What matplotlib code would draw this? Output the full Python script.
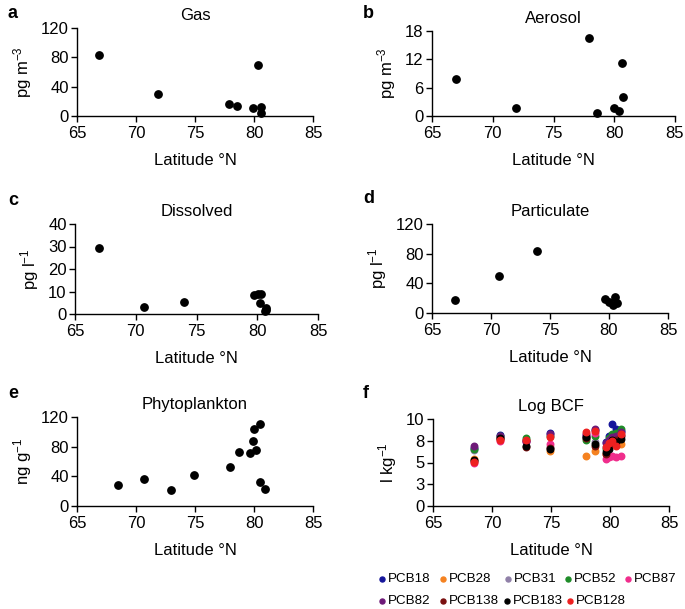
import numpy as np
import matplotlib
matplotlib.use("Agg")
import matplotlib.pyplot as plt
from matplotlib.lines import Line2D

plt.rcParams['font.family'] = ['Liberation Sans', 'DejaVu Sans']
plt.rcParams['font.size'] = 12
plt.rcParams['mathtext.fontset'] = 'custom'
plt.rcParams['mathtext.rm'] = 'Liberation Sans'
plt.rcParams['mathtext.it'] = 'Liberation Sans'

# ---- data ----
gas_lat = [66.9, 71.9, 77.9, 78.6, 80.3, 79.9, 80.6, 80.6]
gas_val = [83, 30.5, 16, 14, 69.5, 10.5, 12, 4.5]

aer_lat = [66.95, 71.9, 77.9, 78.6, 80.0, 80.4, 80.6, 80.7]
aer_val = [7.8, 1.7, 16.6, 0.7, 1.75, 1.05, 11.2, 4.0]

dis_lat = [67.0, 70.7, 74.0, 79.7, 80.1, 80.3, 80.2, 80.7, 80.6, 80.7]
dis_val = [29.3, 3.1, 5.4, 8.3, 8.7, 9.0, 4.8, 2.7, 1.2, 2.0]

par_lat = [66.97, 70.7, 73.9, 79.7, 80.0, 80.3, 80.5, 80.7]
par_val = [18, 50, 83.5, 19.5, 15, 10.4, 21.7, 13.5]

phy_lat = [68.5, 70.7, 73.0, 74.9, 78.0, 78.7, 79.7, 79.9, 80.0, 80.2, 80.5, 80.5, 80.9]
phy_val = [28, 37, 22, 41.5, 52, 72.6, 72, 87, 104, 76, 110.5, 33, 22.6]

bcf_lat = [68.5, 70.7, 72.9, 74.9, 78.0, 78.7, 79.7, 79.9, 80.2, 80.5, 80.9]
pcb_names = ['PCB18', 'PCB28', 'PCB31', 'PCB52', 'PCB87',
             'PCB82', 'PCB138', 'PCB183', 'PCB128']
pcb18  = [6.7, 8.2, 7.5, 8.4, 8.0, 8.7, 7.3, 8.1, 9.4, 8.8, 8.6]
pcb28  = [5.4, 7.8, 7.6, 6.3, 5.8, 6.3, 6.0, 7.4, 7.9, 8.0, 7.1]
pcb31  = [6.4, 7.9, 7.6, 6.8, 7.8, 7.3, 6.8, 7.0, 7.5, 7.8, 8.2]
pcb52  = [6.6, 8.0, 7.8, 8.0, 7.6, 8.0, 6.6, 7.8, 8.3, 8.4, 8.8]
pcb87  = [5.0, 7.5, 7.4, 7.1, 8.2, 8.4, 5.4, 5.6, 5.7, 5.6, 5.8]
pcb82  = [6.9, 8.0, 7.5, 8.3, 8.3, 8.8, 7.2, 7.6, 7.9, 8.1, 8.5]
pcb138 = [5.2, 7.7, 6.8, 6.7, 7.8, 6.9, 6.0, 7.0, 7.4, 7.6, 8.0]
pcb183 = [5.3, 7.8, 6.9, 6.5, 7.9, 7.1, 6.2, 6.5, 7.6, 7.3, 7.7]
pcb128 = [5.1, 7.6, 7.6, 7.9, 8.5, 8.6, 6.8, 7.2, 7.5, 6.9, 8.3]
pcb_vals = [pcb18, pcb28, pcb31, pcb52, pcb87, pcb82, pcb138, pcb183, pcb128]
pcb_colors = ['#16169a', '#f58220', '#9080a8', '#1e8c28', '#f02d8c',
              '#6e1a78', '#7a1010', '#000000', '#ee2020']

bcf_ticks = [0, 2.5, 5, 7.5, 10]
bcf_ticklabels = ['0', '3', '5', '8', '10']

W, H = 685, 609
fig = plt.figure(figsize=(W / 100, H / 100), dpi=100)


def make_ax(l, r, t, b):
    return fig.add_axes([l / W, 1 - b / H, (r - l) / W, (b - t) / H])


def style(ax, title, ylabel, ymax, yticks, letter, lx, ly):
    ax.set_xlim(65, 85)
    ax.set_ylim(0, ymax)
    ax.set_xticks([65, 70, 75, 80, 85])
    ax.set_yticks(yticks)
    for s in ['top', 'right']:
        ax.spines[s].set_visible(False)
    for s in ['left', 'bottom']:
        ax.spines[s].set_linewidth(1.0)
        ax.spines[s].set_clip_on(False)
    ax.tick_params(direction='out', length=4, width=1.0, labelsize=12, pad=2)
    ax.tick_params(axis='x', pad=3)
    ax.set_xlabel('Latitude °N', fontsize=12, labelpad=9)
    ax.set_ylabel(ylabel, fontsize=12, labelpad=5)
    ax.set_title(title, fontsize=12, pad=6)
    fig.text(lx / W, 1 - ly / H, letter, fontsize=13, fontweight='bold',
             ha='left', va='center')


ms = 28
ax_a = make_ax(77, 313, 28, 116)
ax_a.scatter(gas_lat, gas_val, s=ms, color='black', clip_on=False, zorder=3)
style(ax_a, 'Gas', 'pg m$^{-3}$', 120, [0, 40, 80, 120], 'a', 8, 13)

ax_b = make_ax(432, 675, 31, 116)
ax_b.scatter(aer_lat, aer_val, s=ms, color='black', clip_on=False, zorder=3)
style(ax_b, 'Aerosol', 'pg m$^{-3}$', 18, [0, 6, 12, 18], 'b', 363, 13)

ax_c = make_ax(75, 318, 224, 314)
ax_c.scatter(dis_lat, dis_val, s=ms, color='black', clip_on=False, zorder=3)
style(ax_c, 'Dissolved', 'pg l$^{-1}$', 40, [0, 10, 20, 30, 40], 'c', 8, 201)

ax_d = make_ax(432, 668, 224, 313)
ax_d.scatter(par_lat, par_val, s=ms, color='black', clip_on=False, zorder=3)
style(ax_d, 'Particulate', 'pg l$^{-1}$', 120, [0, 40, 80, 120], 'd', 363, 199)

ax_e = make_ax(77, 313, 417, 506)
ax_e.scatter(phy_lat, phy_val, s=ms, color='black', clip_on=False, zorder=3)
style(ax_e, 'Phytoplankton', 'ng g$^{-1}$', 120, [0, 40, 80, 120], 'e', 8, 393)

ax_f = make_ax(433, 669, 419, 506)
for name, vals, col in zip(pcb_names, pcb_vals, pcb_colors):
    ax_f.scatter(bcf_lat, vals, s=22, color=col, zorder=3)
style(ax_f, 'Log BCF', 'l kg$^{-1}$', 10, bcf_ticks, 'f', 363, 393)
ax_f.set_yticklabels(bcf_ticklabels)

# legend laid out like the reference: two rows
legend_x = [382, 443, 508, 568, 628, 382, 443, 507, 570]
legend_y = [579, 579, 579, 579, 579, 601, 601, 601, 601]
for name, col, lx, ly in zip(pcb_names, pcb_colors, legend_x, legend_y):
    fig.add_artist(Line2D([lx / W], [1 - ly / H], marker='o', linestyle='none',
                          color=col, markersize=3.6, transform=fig.transFigure))
    fig.text((lx + 5.5) / W, 1 - ly / H, name, fontsize=9.6, ha='left',
             va='center')

fig.savefig('out.png', dpi=100)
